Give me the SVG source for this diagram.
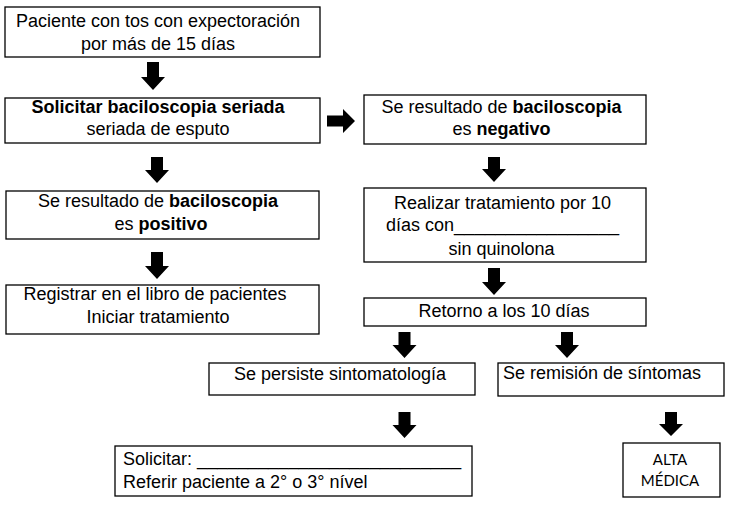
<svg xmlns="http://www.w3.org/2000/svg" width="729" height="505" viewBox="0 0 729 505">
<style>
  .box { fill: #fff; stroke: #000; stroke-width: 1.3; }
  .t { font-family: "Liberation Sans", Arial, sans-serif; font-size: 18px; fill: #000; }
  .m { text-anchor: middle; }
  .b { font-weight: bold; }
  .small { font-family: Lato, "Open Sans", sans-serif; font-size: 15px; fill: #000; text-anchor: middle; }
  .arrow { fill: #000; stroke: none; }
</style>
<rect width="729" height="505" fill="#fff"/>

<g id="connectors">
  <path class="arrow" d="M147,62 H159 V77 H165 L153,90 L141,77 H147 Z"/>
  <path class="arrow" d="M151,157 H163 V170 H169 L157,183 L145,170 H151 Z"/>
  <path class="arrow" d="M151,252 H163 V266 H169 L157,279 L145,266 H151 Z"/>
  <path class="arrow" d="M327,115.5 H343 V109 L355,121 L343,133 V126.5 H327 Z"/>
  <path class="arrow" d="M488,157 H500 V169 H506 L494,182 L482,169 H488 Z"/>
  <path class="arrow" d="M488,268 H500 V282 H506 L494,295 L482,282 H488 Z"/>
  <path class="arrow" d="M398.5,332 H410.5 V345 H416.5 L404.5,358 L392.5,345 H398.5 Z"/>
  <path class="arrow" d="M561,332 H573 V345 H579 L567,358 L555,345 H561 Z"/>
  <path class="arrow" d="M398.5,412 H410.5 V425 H416.5 L404.5,438 L392.5,425 H398.5 Z"/>
  <path class="arrow" d="M665,412 H677 V424 H683 L671,436 L659,424 H665 Z"/>
</g>

<g id="n1">
  <rect class="box" x="5" y="7" width="315" height="50"/>
  <text class="t m" x="158" y="27">Paciente con tos con expectoración</text>
  <text class="t m" x="158" y="50">por más de 15 días</text>
</g>

<g id="n2">
  <rect class="box" x="5" y="98" width="315" height="45"/>
  <text class="t m b" x="158" y="113">Solicitar baciloscopia seriada</text>
  <text class="t m" x="158" y="135">seriada de esputo</text>
</g>

<g id="n3">
  <rect class="box" x="6" y="191" width="313" height="48"/>
  <text class="t m" x="158" y="207">Se resultado de <tspan class="b">baciloscopia</tspan></text>
  <text class="t m" x="161" y="230">es <tspan class="b">positivo</tspan></text>
</g>

<g id="n4">
  <rect class="box" x="6" y="285" width="313" height="49"/>
  <text class="t m" x="155" y="300">Registrar en el libro de pacientes</text>
  <text class="t m" x="158" y="323">Iniciar tratamiento</text>
</g>

<g id="n5">
  <rect class="box" x="364" y="95" width="282" height="49"/>
  <text class="t m" x="501.5" y="113">Se resultado de <tspan class="b">baciloscopia</tspan></text>
  <text class="t m" x="501.5" y="135">es <tspan class="b">negativo</tspan></text>
</g>

<g id="n6">
  <rect class="box" x="364" y="188" width="282" height="74"/>
  <text class="t m" x="502.5" y="209">Realizar tratamiento por 10</text>
  <text class="t" x="386" y="231">días con<tspan textLength="165" lengthAdjust="spacingAndGlyphs">________________</tspan></text>
  <text class="t m" x="501.5" y="255">sin quinolona</text>
</g>

<g id="n7">
  <rect class="box" x="364" y="298" width="282" height="28"/>
  <text class="t m" x="504" y="317">Retorno a los 10 días</text>
</g>

<g id="n8">
  <rect class="box" x="209" y="363" width="266" height="32"/>
  <text class="t m" x="340" y="380">Se persiste sintomatología</text>
</g>

<g id="n9">
  <rect class="box" x="498" y="363" width="226" height="33"/>
  <text class="t" x="503" y="379">Se remisión de síntomas</text>
</g>

<g id="n10">
  <rect class="box" x="115" y="446" width="357" height="50"/>
  <text class="t" x="123" y="465">Solicitar: <tspan textLength="264" lengthAdjust="spacingAndGlyphs">__________________________</tspan></text>
  <text class="t" x="123" y="488">Referir paciente a 2° o 3° nível</text>
</g>

<g id="n11">
  <rect class="box" x="623" y="443" width="97" height="54"/>
  <text class="small" x="670" y="465">ALTA</text>
  <text class="small" x="670" y="486">MÉDICA</text>
</g>
</svg>
